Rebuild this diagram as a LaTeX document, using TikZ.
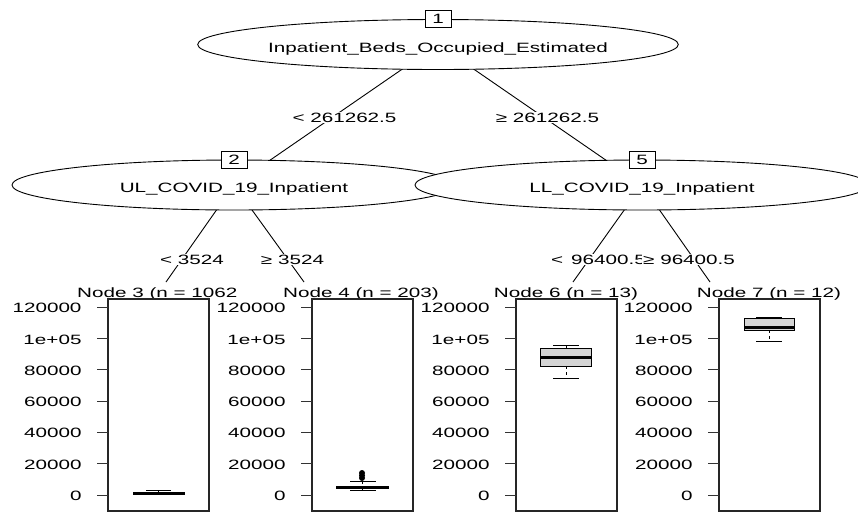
\documentclass[tikz,border=0pt]{standalone}
\usepackage{fontspec}
\setmainfont{Liberation Sans}[FakeStretch=1.53]
\usetikzlibrary{shapes.geometric, backgrounds}

\tikzset{
    split/.style={draw, ellipse, fill=white, line width=0.9pt, minimum height=50pt,
        inner sep=0pt, text height=15pt, text depth=0pt},
    idbox/.style={draw, fill=white, line width=0.9pt, minimum width=26pt,
        minimum height=17pt, inner sep=0pt},
    edgelabel/.style={fill=white, inner sep=1pt, anchor=base},
    panel/.style={line width=1.2pt, draw=black!85},
    tick/.style={line width=1pt, draw=black!80},
    whisk/.style={line width=0.9pt},
    boxfill/.style={draw, fill=black!17, line width=0.9pt},
    median/.style={line width=3pt},
}

\begin{document}
\begin{tikzpicture}[x=1pt, y=-1pt, font=\fontsize{13.5}{16}\selectfont]
        \useasboundingbox (0,0) rectangle (858,512);
        \clip (0,0) rectangle (858,512);

        % define split nodes
        \node[split, minimum width=450pt] (n1) at (438,44.5) {Inpatient\_Beds\_Occupied\_Estimated};
        \node[split, minimum width=444pt] (n2) at (234,185) {UL\_COVID\_19\_Inpatient};
        \node[split, minimum width=454pt] (n5) at (642,185) {LL\_COVID\_19\_Inpatient};

        \node[idbox] (b1) at (n1.north) {1};
        \node[idbox] (b2) at (n2.north) {2};
        \node[idbox] (b5) at (n5.north) {5};

        % define ends of the edges at the terminal nodes
        \coordinate (t3) at (166,282);
        \coordinate (t4) at (304,282);
        \coordinate (t6) at (573,282);
        \coordinate (t7) at (710,282);

        % draw edges
        \begin{scope}[on background layer]
            \draw[line width=0.9pt] (n1.center) -- (n2.center);
            \draw[line width=0.9pt] (n1.center) -- (n5.center);
            \draw[line width=0.9pt] (n2.center) -- (t3);
            \draw[line width=0.9pt] (n2.center) -- (t4);
            \draw[line width=0.9pt] (n5.center) -- (t6);
            \draw[line width=0.9pt] (n5.center) -- (t7);
        \end{scope}

        \node[edgelabel] (l2) at (344.5,122) {< 261262.5};
        \node[edgelabel] (l5) at (547.5,122) {≥ 261262.5};
        \node[edgelabel] (l3) at (192,264) {< 3524};
        \node[edgelabel] (l4) at (292.5,264) {≥ 3524};
        \node[edgelabel, anchor=base west] (l6) at (550,264) {< \,96400.5};
        \node[edgelabel, anchor=base west] (l7) at (642,264) {≥ 96400.5};

        % terminal nodes
        \node[anchor=base west, inner sep=0pt] (h3) at (77,297) {Node 3 (n = 1062};
        \node[anchor=base, inner sep=0pt] (h4) at (361,297) {Node 4 (n = 203)};
        \node[anchor=base, inner sep=0pt] (h6) at (566,297) {Node 6 (n = 13)};
        \node[anchor=base, inner sep=0pt] (h7) at (769,297) {Node 7 (n = 12)};

        \foreach \x in {108,312,516,719} {
            \draw[panel] (\x,299) rectangle ++(101,212);
            \foreach \t [count=\k from 0] in {0,20000,40000,60000,80000,1e+05,120000} {
                \draw[tick] (\x,495-\k*31.33) -- ++(-11,0)
                    node[anchor=east, inner sep=0pt, xshift=-15pt, yshift=-1pt] (ax\x-\k) {\t};
            }
        }

        % Node 3
        \draw[whisk] (146,490) -- (171,490);
        \draw[whisk] (158.5,490) -- (158.5,493);
        \draw[median] (133,493) -- (185,493);

        % Node 4
        \draw[whisk] (350,481) -- (376,481);
        \draw[whisk] (350,490) -- (376,490);
        \draw[whisk, dash pattern=on 3pt off 3pt] (362.5,481) -- (362.5,490);
        \draw[median] (336,487) -- (389,487);
        \foreach \y in {473,475.5,478}
            \fill (362,\y) circle (3);

        % Node 6
        \draw[whisk] (553,345) -- (579,345);
        \draw[whisk] (553,378) -- (579,378);
        \draw[whisk, dash pattern=on 3pt off 3pt] (566,345) -- (566,348) (566,366) -- (566,378);
        \draw[boxfill] (540,348) rectangle (591,366);
        \draw[median] (540,357) -- (591,357);

        % Node 7
        \draw[whisk] (756,317) -- (782,317);
        \draw[whisk] (756,341) -- (782,341);
        \draw[whisk, dash pattern=on 3pt off 3pt] (769,330) -- (769,341);
        \draw[boxfill] (744,318) rectangle (794,330);
        \draw[median] (744,327) -- (794,327);
\end{tikzpicture}
\end{document}
